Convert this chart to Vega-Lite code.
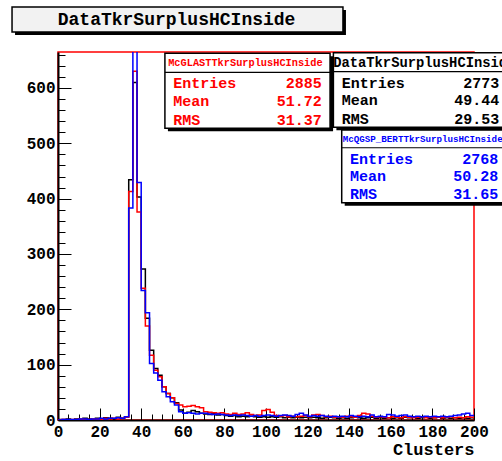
{
  "$schema": "https://vega.github.io/schema/vega-lite/v6.json",
  "width": 416,
  "height": 368,
  "autosize": {"type": "none"},
  "padding": {"left": 58, "top": 52, "right": 28, "bottom": 41},
  "background": "white",
  "config": {
    "view": {"stroke": "#ff0000", "strokeWidth": 1.5},
    "font": "Liberation Mono",
    "axis": {
      "labelFont": "Liberation Mono", "labelFontWeight": "bold", "labelFontSize": 16, "labelColor": "black",
      "titleFont": "Liberation Mono", "titleFontWeight": "bold", "titleFontSize": 17, "titleColor": "black",
      "tickColor": "black", "tickWidth": 1, "domainColor": "black", "domainWidth": 2, "grid": false,
      "labelOverlap": false, "labelFlush": false, "labelBound": false
    }
  },
  "resolve": {"scale": {"x": "independent", "y": "independent"}, "axis": {"x": "independent", "y": "independent"}},
  "datasets": {
    "hist": [
      {"x": 0, "red": 0, "black": 1, "blue": 0},
      {"x": 2, "red": 1, "black": 1, "blue": 1},
      {"x": 4, "red": 0, "black": 2, "blue": 1},
      {"x": 6, "red": 1, "black": 0, "blue": 1},
      {"x": 8, "red": 1, "black": 2, "blue": 1},
      {"x": 10, "red": 2, "black": 1, "blue": 2},
      {"x": 12, "red": 1, "black": 3, "blue": 2},
      {"x": 14, "red": 1, "black": 2, "blue": 1},
      {"x": 16, "red": 2, "black": 1, "blue": 2},
      {"x": 18, "red": 2, "black": 3, "blue": 2},
      {"x": 20, "red": 1, "black": 2, "blue": 3},
      {"x": 22, "red": 3, "black": 4, "blue": 2},
      {"x": 24, "red": 2, "black": 3, "blue": 3},
      {"x": 26, "red": 3, "black": 2, "blue": 3},
      {"x": 28, "red": 2, "black": 5, "blue": 4},
      {"x": 30, "red": 3, "black": 3, "blue": 3},
      {"x": 32, "red": 5, "black": 6, "blue": 6},
      {"x": 34, "red": 413, "black": 434, "blue": 383},
      {"x": 36, "red": 630, "black": 610, "blue": 700},
      {"x": 38, "red": 376, "black": 403, "blue": 429},
      {"x": 40, "red": 238, "black": 273, "blue": 234},
      {"x": 42, "red": 170, "black": 184, "blue": 194},
      {"x": 44, "red": 117, "black": 126, "blue": 102},
      {"x": 46, "red": 90, "black": 93, "blue": 85},
      {"x": 48, "red": 78, "black": 81, "blue": 72},
      {"x": 50, "red": 60, "black": 60, "blue": 51},
      {"x": 52, "red": 48, "black": 48, "blue": 42},
      {"x": 54, "red": 40, "black": 40, "blue": 33},
      {"x": 56, "red": 30, "black": 31, "blue": 27},
      {"x": 58, "red": 27, "black": 18, "blue": 15},
      {"x": 60, "red": 24, "black": 12, "blue": 12},
      {"x": 62, "red": 25, "black": 14, "blue": 13},
      {"x": 64, "red": 26, "black": 17, "blue": 12},
      {"x": 66, "red": 24, "black": 15, "blue": 11},
      {"x": 68, "red": 22, "black": 12, "blue": 12},
      {"x": 70, "red": 15, "black": 11, "blue": 12},
      {"x": 72, "red": 14, "black": 10, "blue": 11},
      {"x": 74, "red": 13, "black": 12, "blue": 10},
      {"x": 76, "red": 12, "black": 9, "blue": 11},
      {"x": 78, "red": 13, "black": 10, "blue": 10},
      {"x": 80, "red": 11, "black": 8, "blue": 9},
      {"x": 82, "red": 10, "black": 7, "blue": 8},
      {"x": 84, "red": 12, "black": 8, "blue": 9},
      {"x": 86, "red": 10, "black": 6, "blue": 8},
      {"x": 88, "red": 11, "black": 7, "blue": 9},
      {"x": 90, "red": 13, "black": 6, "blue": 8},
      {"x": 92, "red": 10, "black": 7, "blue": 7},
      {"x": 94, "red": 8, "black": 6, "blue": 8},
      {"x": 96, "red": 9, "black": 5, "blue": 7},
      {"x": 98, "red": 17, "black": 6, "blue": 8},
      {"x": 100, "red": 19, "black": 5, "blue": 9},
      {"x": 102, "red": 14, "black": 6, "blue": 8},
      {"x": 104, "red": 8, "black": 5, "blue": 7},
      {"x": 106, "red": 7, "black": 6, "blue": 8},
      {"x": 108, "red": 8, "black": 4, "blue": 9},
      {"x": 110, "red": 6, "black": 5, "blue": 8},
      {"x": 112, "red": 7, "black": 4, "blue": 7},
      {"x": 114, "red": 6, "black": 5, "blue": 10},
      {"x": 116, "red": 7, "black": 4, "blue": 12},
      {"x": 118, "red": 8, "black": 5, "blue": 9},
      {"x": 120, "red": 6, "black": 4, "blue": 7},
      {"x": 122, "red": 9, "black": 5, "blue": 8},
      {"x": 124, "red": 10, "black": 4, "blue": 7},
      {"x": 126, "red": 8, "black": 3, "blue": 8},
      {"x": 128, "red": 6, "black": 4, "blue": 7},
      {"x": 130, "red": 7, "black": 5, "blue": 6},
      {"x": 132, "red": 5, "black": 4, "blue": 7},
      {"x": 134, "red": 6, "black": 3, "blue": 6},
      {"x": 136, "red": 5, "black": 4, "blue": 7},
      {"x": 138, "red": 7, "black": 3, "blue": 6},
      {"x": 140, "red": 6, "black": 4, "blue": 8},
      {"x": 142, "red": 5, "black": 5, "blue": 7},
      {"x": 144, "red": 8, "black": 4, "blue": 6},
      {"x": 146, "red": 12, "black": 3, "blue": 7},
      {"x": 148, "red": 11, "black": 4, "blue": 6},
      {"x": 150, "red": 7, "black": 5, "blue": 9},
      {"x": 152, "red": 5, "black": 3, "blue": 6},
      {"x": 154, "red": 6, "black": 4, "blue": 7},
      {"x": 156, "red": 5, "black": 3, "blue": 6},
      {"x": 158, "red": 4, "black": 4, "blue": 10},
      {"x": 160, "red": 6, "black": 3, "blue": 9},
      {"x": 162, "red": 5, "black": 4, "blue": 7},
      {"x": 164, "red": 4, "black": 3, "blue": 8},
      {"x": 166, "red": 6, "black": 5, "blue": 9},
      {"x": 168, "red": 5, "black": 4, "blue": 7},
      {"x": 170, "red": 4, "black": 6, "blue": 6},
      {"x": 172, "red": 5, "black": 3, "blue": 7},
      {"x": 174, "red": 6, "black": 4, "blue": 6},
      {"x": 176, "red": 4, "black": 5, "blue": 7},
      {"x": 178, "red": 5, "black": 3, "blue": 6},
      {"x": 180, "red": 4, "black": 4, "blue": 7},
      {"x": 182, "red": 5, "black": 6, "blue": 6},
      {"x": 184, "red": 4, "black": 3, "blue": 7},
      {"x": 186, "red": 5, "black": 4, "blue": 6},
      {"x": 188, "red": 6, "black": 3, "blue": 7},
      {"x": 190, "red": 4, "black": 4, "blue": 8},
      {"x": 192, "red": 5, "black": 3, "blue": 9},
      {"x": 194, "red": 4, "black": 4, "blue": 11},
      {"x": 196, "red": 6, "black": 3, "blue": 12},
      {"x": 198, "red": 5, "black": 4, "blue": 8},
      {"x": 200, "red": 5, "black": 4, "blue": 8}
    ]
  },
  "layer": [
    {
      "data": {"name": "hist"},
      "transform": [{"fold": ["black", "red", "blue"], "as": ["s", "n"]}],
      "mark": {"type": "line", "interpolate": "step-after", "strokeWidth": 1.5, "clip": true},
      "encoding": {
        "x": {
          "field": "x", "type": "quantitative",
          "scale": {"domain": [0, 200], "nice": false, "zero": false},
          "axis": {
            "title": "Clusters", "titleAnchor": "end", "titleAlign": "right", "titlePadding": -4, "orient": "bottom",
            "values": [0,5,10,15,20,25,30,35,40,45,50,55,60,65,70,75,80,85,90,95,100,105,110,115,120,125,130,135,140,145,150,155,160,165,170,175,180,185,190,195,200],
            "labelExpr": "datum.value % 20 === 0 ? datum.label : ''",
            "labelPadding": 15,
            "tickSize": {"condition": {"test": "datum.value % 20 === 0", "value": -12}, "value": -6}
          }
        },
        "y": {
          "field": "n", "type": "quantitative",
          "scale": {"domain": [0, 665], "nice": false, "zero": false},
          "axis": {
            "title": null, "orient": "left",
            "values": [0,20,40,60,80,100,120,140,160,180,200,220,240,260,280,300,320,340,360,380,400,420,440,460,480,500,520,540,560,580,600,620,640,660],
            "labelExpr": "datum.value % 100 === 0 ? datum.label : ''",
            "labelPadding": 16,
            "tickSize": {"condition": {"test": "datum.value % 100 === 0", "value": -13}, "value": -7}
          }
        },
        "color": {
          "field": "s", "type": "nominal",
          "scale": {"domain": ["black", "red", "blue"], "range": ["#000000", "#ff0000", "#0000ff"]},
          "legend": null
        }
      }
    },
    {
      "data": {"values": [{"name": "DataTkrSurplusHCInside"}]},
      "layer": [
        {"mark": {"type": "rect", "fill": "#000000", "xOffset": 3, "x2Offset": 3, "yOffset": 3, "y2Offset": 3},
         "encoding": {"x": {"datum": -22.1, "scale": {"domain": [0, 200], "nice": false, "zero": false}, "axis": null}, "x2": {"datum": 137}, "y": {"datum": 746.3, "scale": {"domain": [0, 665], "nice": false, "zero": false}, "axis": null}, "y2": {"datum": 701.1}}},
        {"mark": {"type": "rect", "fill": "#f2f2f2", "stroke": "#000000", "strokeWidth": 1.5},
         "encoding": {"x": {"datum": -22.1, "scale": {"domain": [0, 200], "nice": false, "zero": false}, "axis": null}, "x2": {"datum": 137}, "y": {"datum": 746.3, "scale": {"domain": [0, 665], "nice": false, "zero": false}, "axis": null}, "y2": {"datum": 701.1}}},
        {"mark": {"type": "text", "align": "center", "baseline": "middle", "font": "Liberation Mono", "fontWeight": "bold", "fontSize": 18, "color": "#000000"},
         "encoding": {"x": {"datum": 57.0, "scale": {"domain": [0, 200], "nice": false, "zero": false}, "axis": null}, "y": {"datum": 723.7, "scale": {"domain": [0, 665], "nice": false, "zero": false}, "axis": null}, "text": {"field": "name"}}}
      ]
    },
    {
      "data": {"values": [{"name": "McGLASTTkrSurplusHCInside", "entries": "2885", "mean": "51.72", "rms": "31.37"}]},
      "layer": [
        {"mark": {"type": "rect", "fill": "#000000", "xOffset": 3, "x2Offset": 3, "yOffset": 3, "y2Offset": 3},
         "encoding": {"x": {"datum": 51.4, "scale": {"domain": [0, 200], "nice": false, "zero": false}, "axis": null}, "x2": {"datum": 130.8}, "y": {"datum": 662.6, "scale": {"domain": [0, 665], "nice": false, "zero": false}, "axis": null}, "y2": {"datum": 527.1}}},
        {"mark": {"type": "rect", "fill": "#ffffff", "stroke": "#000000", "strokeWidth": 1.5},
         "encoding": {"x": {"datum": 51.4, "scale": {"domain": [0, 200], "nice": false, "zero": false}, "axis": null}, "x2": {"datum": 130.8}, "y": {"datum": 662.6, "scale": {"domain": [0, 665], "nice": false, "zero": false}, "axis": null}, "y2": {"datum": 527.1}}},
        {"mark": {"type": "rule", "stroke": "#000000", "strokeWidth": 1.2},
         "encoding": {"x": {"datum": 51.4, "scale": {"domain": [0, 200], "nice": false, "zero": false}, "axis": null}, "x2": {"datum": 130.8}, "y": {"datum": 628.3, "scale": {"domain": [0, 665], "nice": false, "zero": false}, "axis": null}}},
        {"mark": {"type": "text", "align": "center", "baseline": "middle", "font": "Liberation Mono", "fontWeight": "bold", "fontSize": 10.3, "color": "#ff0000"},
         "encoding": {"x": {"datum": 90.1, "scale": {"domain": [0, 200], "nice": false, "zero": false}, "axis": null}, "y": {"datum": 645.6, "scale": {"domain": [0, 665], "nice": false, "zero": false}, "axis": null}, "text": {"field": "name"}}},
        {"mark": {"type": "text", "align": "left", "baseline": "middle", "font": "Liberation Mono", "fontWeight": "bold", "fontSize": 15, "color": "#ff0000", "text": "Entries"},
         "encoding": {"x": {"datum": 55.4, "scale": {"domain": [0, 200], "nice": false, "zero": false}, "axis": null}, "y": {"datum": 608.4, "scale": {"domain": [0, 665], "nice": false, "zero": false}, "axis": null}}},
        {"mark": {"type": "text", "align": "left", "baseline": "middle", "font": "Liberation Mono", "fontWeight": "bold", "fontSize": 15, "color": "#ff0000", "text": "Mean"},
         "encoding": {"x": {"datum": 55.4, "scale": {"domain": [0, 200], "nice": false, "zero": false}, "axis": null}, "y": {"datum": 577.0, "scale": {"domain": [0, 665], "nice": false, "zero": false}, "axis": null}}},
        {"mark": {"type": "text", "align": "left", "baseline": "middle", "font": "Liberation Mono", "fontWeight": "bold", "fontSize": 15, "color": "#ff0000", "text": "RMS"},
         "encoding": {"x": {"datum": 55.4, "scale": {"domain": [0, 200], "nice": false, "zero": false}, "axis": null}, "y": {"datum": 542.1, "scale": {"domain": [0, 665], "nice": false, "zero": false}, "axis": null}}},
        {"mark": {"type": "text", "align": "right", "baseline": "middle", "font": "Liberation Mono", "fontWeight": "bold", "fontSize": 15, "color": "#ff0000"},
         "encoding": {"x": {"datum": 126.8, "scale": {"domain": [0, 200], "nice": false, "zero": false}, "axis": null}, "y": {"datum": 608.4, "scale": {"domain": [0, 665], "nice": false, "zero": false}, "axis": null}, "text": {"field": "entries"}}},
        {"mark": {"type": "text", "align": "right", "baseline": "middle", "font": "Liberation Mono", "fontWeight": "bold", "fontSize": 15, "color": "#ff0000"},
         "encoding": {"x": {"datum": 126.8, "scale": {"domain": [0, 200], "nice": false, "zero": false}, "axis": null}, "y": {"datum": 577.0, "scale": {"domain": [0, 665], "nice": false, "zero": false}, "axis": null}, "text": {"field": "mean"}}},
        {"mark": {"type": "text", "align": "right", "baseline": "middle", "font": "Liberation Mono", "fontWeight": "bold", "fontSize": 15, "color": "#ff0000"},
         "encoding": {"x": {"datum": 126.8, "scale": {"domain": [0, 200], "nice": false, "zero": false}, "axis": null}, "y": {"datum": 542.1, "scale": {"domain": [0, 665], "nice": false, "zero": false}, "axis": null}, "text": {"field": "rms"}}}
      ]
    },
    {
      "data": {"values": [{"name": "DataTkrSurplusHCInside", "entries": "2773", "mean": "49.44", "rms": "29.53"}]},
      "layer": [
        {"mark": {"type": "rect", "fill": "#000000", "xOffset": 3, "x2Offset": 3, "yOffset": 3, "y2Offset": 3},
         "encoding": {"x": {"datum": 132.4, "scale": {"domain": [0, 200], "nice": false, "zero": false}, "axis": null}, "x2": {"datum": 218}, "y": {"datum": 663.6, "scale": {"domain": [0, 665], "nice": false, "zero": false}, "axis": null}, "y2": {"datum": 528.9}}},
        {"mark": {"type": "rect", "fill": "#ffffff", "stroke": "#000000", "strokeWidth": 1.5},
         "encoding": {"x": {"datum": 132.4, "scale": {"domain": [0, 200], "nice": false, "zero": false}, "axis": null}, "x2": {"datum": 218}, "y": {"datum": 663.6, "scale": {"domain": [0, 665], "nice": false, "zero": false}, "axis": null}, "y2": {"datum": 528.9}}},
        {"mark": {"type": "rule", "stroke": "#000000", "strokeWidth": 1.2},
         "encoding": {"x": {"datum": 132.4, "scale": {"domain": [0, 200], "nice": false, "zero": false}, "axis": null}, "x2": {"datum": 218}, "y": {"datum": 629.4, "scale": {"domain": [0, 665], "nice": false, "zero": false}, "axis": null}}},
        {"mark": {"type": "text", "align": "left", "baseline": "middle", "font": "Liberation Mono", "fontWeight": "bold", "fontSize": 13.8, "color": "#000000"},
         "encoding": {"x": {"datum": 132.3, "scale": {"domain": [0, 200], "nice": false, "zero": false}, "axis": null}, "y": {"datum": 645.6, "scale": {"domain": [0, 665], "nice": false, "zero": false}, "axis": null}, "text": {"field": "name"}}},
        {"mark": {"type": "text", "align": "left", "baseline": "middle", "font": "Liberation Mono", "fontWeight": "bold", "fontSize": 15, "color": "#000000", "text": "Entries"},
         "encoding": {"x": {"datum": 136.4, "scale": {"domain": [0, 200], "nice": false, "zero": false}, "axis": null}, "y": {"datum": 609.6, "scale": {"domain": [0, 665], "nice": false, "zero": false}, "axis": null}}},
        {"mark": {"type": "text", "align": "left", "baseline": "middle", "font": "Liberation Mono", "fontWeight": "bold", "fontSize": 15, "color": "#000000", "text": "Mean"},
         "encoding": {"x": {"datum": 136.4, "scale": {"domain": [0, 200], "nice": false, "zero": false}, "axis": null}, "y": {"datum": 578.3, "scale": {"domain": [0, 665], "nice": false, "zero": false}, "axis": null}}},
        {"mark": {"type": "text", "align": "left", "baseline": "middle", "font": "Liberation Mono", "fontWeight": "bold", "fontSize": 15, "color": "#000000", "text": "RMS"},
         "encoding": {"x": {"datum": 136.4, "scale": {"domain": [0, 200], "nice": false, "zero": false}, "axis": null}, "y": {"datum": 543.4, "scale": {"domain": [0, 665], "nice": false, "zero": false}, "axis": null}}},
        {"mark": {"type": "text", "align": "right", "baseline": "middle", "font": "Liberation Mono", "fontWeight": "bold", "fontSize": 15, "color": "#000000"},
         "encoding": {"x": {"datum": 212.2, "scale": {"domain": [0, 200], "nice": false, "zero": false}, "axis": null}, "y": {"datum": 609.6, "scale": {"domain": [0, 665], "nice": false, "zero": false}, "axis": null}, "text": {"field": "entries"}}},
        {"mark": {"type": "text", "align": "right", "baseline": "middle", "font": "Liberation Mono", "fontWeight": "bold", "fontSize": 15, "color": "#000000"},
         "encoding": {"x": {"datum": 212.2, "scale": {"domain": [0, 200], "nice": false, "zero": false}, "axis": null}, "y": {"datum": 578.3, "scale": {"domain": [0, 665], "nice": false, "zero": false}, "axis": null}, "text": {"field": "mean"}}},
        {"mark": {"type": "text", "align": "right", "baseline": "middle", "font": "Liberation Mono", "fontWeight": "bold", "fontSize": 15, "color": "#000000"},
         "encoding": {"x": {"datum": 212.2, "scale": {"domain": [0, 200], "nice": false, "zero": false}, "axis": null}, "y": {"datum": 543.4, "scale": {"domain": [0, 665], "nice": false, "zero": false}, "axis": null}, "text": {"field": "rms"}}}
      ]
    },
    {
      "data": {"values": [{"name": "McQGSP_BERTTkrSurplusHCInside", "entries": "2768", "mean": "50.28", "rms": "31.65"}]},
      "layer": [
        {"mark": {"type": "rect", "fill": "#000000", "xOffset": 3, "x2Offset": 3, "yOffset": 3, "y2Offset": 3},
         "encoding": {"x": {"datum": 136.4, "scale": {"domain": [0, 200], "nice": false, "zero": false}, "axis": null}, "x2": {"datum": 218}, "y": {"datum": 524.0, "scale": {"domain": [0, 665], "nice": false, "zero": false}, "axis": null}, "y2": {"datum": 392.7}}},
        {"mark": {"type": "rect", "fill": "#ffffff", "stroke": "#000000", "strokeWidth": 1.5},
         "encoding": {"x": {"datum": 136.4, "scale": {"domain": [0, 200], "nice": false, "zero": false}, "axis": null}, "x2": {"datum": 218}, "y": {"datum": 524.0, "scale": {"domain": [0, 665], "nice": false, "zero": false}, "axis": null}, "y2": {"datum": 392.7}}},
        {"mark": {"type": "rule", "stroke": "#000000", "strokeWidth": 1.2},
         "encoding": {"x": {"datum": 136.4, "scale": {"domain": [0, 200], "nice": false, "zero": false}, "axis": null}, "x2": {"datum": 218}, "y": {"datum": 492.0, "scale": {"domain": [0, 665], "nice": false, "zero": false}, "axis": null}}},
        {"mark": {"type": "text", "align": "left", "baseline": "middle", "font": "Liberation Mono", "fontWeight": "bold", "fontSize": 9.2, "color": "#0000ff"},
         "encoding": {"x": {"datum": 136.9, "scale": {"domain": [0, 200], "nice": false, "zero": false}, "axis": null}, "y": {"datum": 507.8, "scale": {"domain": [0, 665], "nice": false, "zero": false}, "axis": null}, "text": {"field": "name"}}},
        {"mark": {"type": "text", "align": "left", "baseline": "middle", "font": "Liberation Mono", "fontWeight": "bold", "fontSize": 15, "color": "#0000ff", "text": "Entries"},
         "encoding": {"x": {"datum": 140.4, "scale": {"domain": [0, 200], "nice": false, "zero": false}, "axis": null}, "y": {"datum": 471.6, "scale": {"domain": [0, 665], "nice": false, "zero": false}, "axis": null}}},
        {"mark": {"type": "text", "align": "left", "baseline": "middle", "font": "Liberation Mono", "fontWeight": "bold", "fontSize": 15, "color": "#0000ff", "text": "Mean"},
         "encoding": {"x": {"datum": 140.4, "scale": {"domain": [0, 200], "nice": false, "zero": false}, "axis": null}, "y": {"datum": 440.9, "scale": {"domain": [0, 665], "nice": false, "zero": false}, "axis": null}}},
        {"mark": {"type": "text", "align": "left", "baseline": "middle", "font": "Liberation Mono", "fontWeight": "bold", "fontSize": 15, "color": "#0000ff", "text": "RMS"},
         "encoding": {"x": {"datum": 140.4, "scale": {"domain": [0, 200], "nice": false, "zero": false}, "axis": null}, "y": {"datum": 407.8, "scale": {"domain": [0, 665], "nice": false, "zero": false}, "axis": null}}},
        {"mark": {"type": "text", "align": "right", "baseline": "middle", "font": "Liberation Mono", "fontWeight": "bold", "fontSize": 15, "color": "#0000ff"},
         "encoding": {"x": {"datum": 211.7, "scale": {"domain": [0, 200], "nice": false, "zero": false}, "axis": null}, "y": {"datum": 471.6, "scale": {"domain": [0, 665], "nice": false, "zero": false}, "axis": null}, "text": {"field": "entries"}}},
        {"mark": {"type": "text", "align": "right", "baseline": "middle", "font": "Liberation Mono", "fontWeight": "bold", "fontSize": 15, "color": "#0000ff"},
         "encoding": {"x": {"datum": 211.7, "scale": {"domain": [0, 200], "nice": false, "zero": false}, "axis": null}, "y": {"datum": 440.9, "scale": {"domain": [0, 665], "nice": false, "zero": false}, "axis": null}, "text": {"field": "mean"}}},
        {"mark": {"type": "text", "align": "right", "baseline": "middle", "font": "Liberation Mono", "fontWeight": "bold", "fontSize": 15, "color": "#0000ff"},
         "encoding": {"x": {"datum": 211.7, "scale": {"domain": [0, 200], "nice": false, "zero": false}, "axis": null}, "y": {"datum": 407.8, "scale": {"domain": [0, 665], "nice": false, "zero": false}, "axis": null}, "text": {"field": "rms"}}}
      ]
    }
  ]
}
